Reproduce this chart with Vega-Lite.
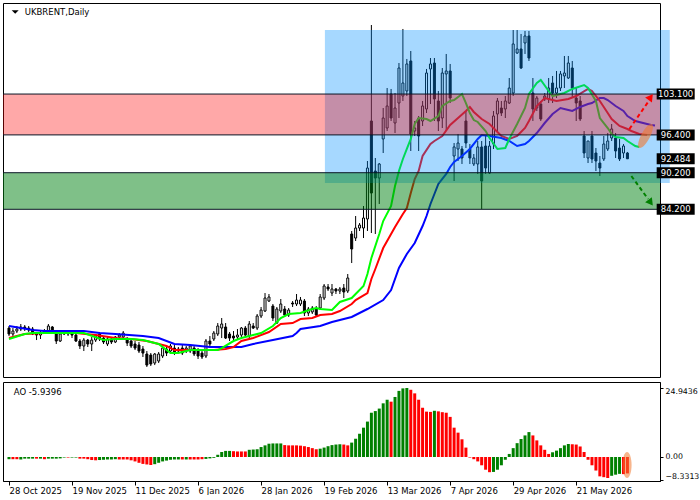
{
"$schema":"https://vega.github.io/schema/vega-lite/v6.json",
"padding":{"left":2,"top":2,"right":0,"bottom":0},
"background":"white",
"spacing":3,
"resolve":{"scale":{"color":"independent"}},
"config":{"view":{"stroke":"#000","strokeWidth":1},"axis":{"labelFont":"DejaVu Sans","labelFontSize":8.5,"labelColor":"#000","domainColor":"#000","tickColor":"#000","grid":false},"text":{"font":"DejaVu Sans"}},
"datasets":{
"candles":[
{"i":0,"o":64.73,"h":65.06,"l":63.42,"c":63.75},{"i":1,"o":63.75,"h":64.73,"l":63.42,"c":64.24},{"i":2,"o":64.24,"h":65.06,"l":63.91,"c":64.57},{"i":3,"o":64.57,"h":65.39,"l":64.24,"c":64.90},{"i":4,"o":64.90,"h":65.22,"l":64.24,"c":64.73},{"i":5,"o":64.73,"h":65.06,"l":64.08,"c":64.40},{"i":6,"o":64.57,"h":64.90,"l":63.58,"c":63.75},{"i":7,"o":63.75,"h":64.08,"l":62.76,"c":63.58},{"i":8,"o":63.58,"h":64.24,"l":62.93,"c":63.91},{"i":9,"o":63.91,"h":64.57,"l":63.75,"c":64.24},
{"i":10,"o":64.24,"h":65.39,"l":64.08,"c":65.06},{"i":11,"o":64.90,"h":65.06,"l":63.75,"c":63.91},{"i":12,"o":63.75,"h":64.08,"l":62.11,"c":62.60},{"i":13,"o":62.60,"h":64.08,"l":62.44,"c":63.75},{"i":14,"o":63.75,"h":64.40,"l":63.58,"c":64.08},{"i":15,"o":64.08,"h":64.24,"l":63.42,"c":63.75},{"i":16,"o":63.75,"h":64.08,"l":63.09,"c":63.58},{"i":17,"o":63.58,"h":63.91,"l":62.44,"c":62.60},{"i":18,"o":62.60,"h":62.93,"l":61.29,"c":61.78},{"i":19,"o":61.78,"h":63.09,"l":60.96,"c":62.76},
{"i":20,"o":62.76,"h":62.93,"l":61.62,"c":62.11},{"i":21,"o":62.11,"h":63.26,"l":60.96,"c":62.76},{"i":22,"o":62.76,"h":63.75,"l":62.44,"c":63.58},{"i":23,"o":63.75,"h":64.08,"l":62.60,"c":62.93},{"i":24,"o":63.09,"h":63.42,"l":62.11,"c":62.44},{"i":25,"o":62.11,"h":63.26,"l":61.78,"c":62.93},{"i":26,"o":62.93,"h":63.26,"l":62.11,"c":62.44},{"i":27,"o":62.44,"h":63.42,"l":62.27,"c":63.26},{"i":28,"o":63.26,"h":63.91,"l":62.93,"c":63.58},{"i":29,"o":63.26,"h":64.24,"l":62.93,"c":63.91},
{"i":30,"o":62.93,"h":63.26,"l":61.78,"c":62.27},{"i":31,"o":62.60,"h":63.09,"l":61.45,"c":61.78},{"i":32,"o":62.11,"h":62.60,"l":61.12,"c":61.45},{"i":33,"o":61.94,"h":62.44,"l":60.63,"c":60.96},{"i":34,"o":61.29,"h":61.78,"l":59.98,"c":60.63},{"i":35,"o":60.47,"h":60.96,"l":58.34,"c":58.66},{"i":36,"o":60.30,"h":60.63,"l":58.50,"c":58.83},{"i":37,"o":58.99,"h":60.63,"l":58.66,"c":60.47},{"i":38,"o":59.32,"h":60.80,"l":58.99,"c":60.47},{"i":39,"o":60.14,"h":61.94,"l":59.81,"c":61.45},
{"i":40,"o":61.29,"h":61.78,"l":60.14,"c":60.63},{"i":41,"o":60.96,"h":62.11,"l":60.63,"c":61.78},{"i":42,"o":61.45,"h":61.94,"l":60.30,"c":60.63},{"i":43,"o":61.29,"h":61.62,"l":60.80,"c":60.96},{"i":44,"o":61.45,"h":62.11,"l":60.30,"c":60.63},{"i":45,"o":60.96,"h":61.78,"l":60.63,"c":61.45},{"i":46,"o":60.96,"h":62.11,"l":60.63,"c":61.78},{"i":47,"o":61.45,"h":61.78,"l":60.14,"c":60.47},{"i":48,"o":61.12,"h":61.45,"l":59.65,"c":60.14},{"i":49,"o":60.63,"h":61.29,"l":59.65,"c":59.98},
{"i":50,"o":60.14,"h":62.93,"l":59.81,"c":62.60},{"i":51,"o":62.60,"h":63.42,"l":61.78,"c":62.11},{"i":52,"o":62.93,"h":64.24,"l":62.60,"c":63.91},{"i":53,"o":63.75,"h":65.55,"l":63.42,"c":65.06},{"i":54,"o":64.73,"h":66.37,"l":63.09,"c":65.39},{"i":55,"o":64.90,"h":65.55,"l":62.93,"c":63.09},{"i":56,"o":63.75,"h":64.08,"l":62.60,"c":63.09},{"i":57,"o":63.42,"h":64.24,"l":62.76,"c":63.09},{"i":58,"o":63.26,"h":64.57,"l":62.93,"c":63.58},{"i":59,"o":63.58,"h":64.90,"l":63.26,"c":64.73},
{"i":60,"o":64.73,"h":65.06,"l":63.26,"c":63.58},{"i":61,"o":63.42,"h":65.88,"l":63.09,"c":65.39},{"i":62,"o":65.06,"h":65.55,"l":64.57,"c":64.73},{"i":63,"o":64.73,"h":67.03,"l":64.40,"c":66.70},{"i":64,"o":66.70,"h":68.18,"l":66.37,"c":67.68},{"i":65,"o":67.52,"h":70.47,"l":67.36,"c":69.65},{"i":66,"o":69.16,"h":70.31,"l":69.00,"c":69.82},{"i":67,"o":68.34,"h":68.67,"l":65.88,"c":66.37},{"i":68,"o":65.55,"h":68.18,"l":65.39,"c":67.85},{"i":69,"o":67.52,"h":69.49,"l":67.19,"c":68.67},
{"i":70,"o":67.85,"h":68.34,"l":66.54,"c":66.86},{"i":71,"o":66.86,"h":68.01,"l":66.54,"c":67.68},{"i":72,"o":68.83,"h":69.16,"l":68.18,"c":68.67},{"i":73,"o":68.67,"h":70.31,"l":68.34,"c":69.32},{"i":74,"o":68.67,"h":69.82,"l":68.34,"c":69.32},{"i":75,"o":69.16,"h":69.49,"l":66.70,"c":67.19},{"i":76,"o":67.19,"h":68.18,"l":66.70,"c":67.85},{"i":77,"o":67.36,"h":68.34,"l":67.03,"c":68.01},{"i":78,"o":67.85,"h":68.34,"l":66.54,"c":66.86},{"i":79,"o":68.01,"h":70.31,"l":67.68,"c":69.82},
{"i":80,"o":69.65,"h":71.95,"l":69.32,"c":71.62},{"i":81,"o":71.46,"h":71.95,"l":70.80,"c":71.13},{"i":82,"o":70.47,"h":71.95,"l":69.98,"c":71.13},{"i":83,"o":71.13,"h":71.29,"l":70.31,"c":70.80},{"i":84,"o":70.80,"h":71.46,"l":70.31,"c":71.13},{"i":85,"o":71.29,"h":71.95,"l":69.65,"c":70.64},{"i":86,"o":70.80,"h":73.59,"l":70.47,"c":72.93},{"i":87,"o":80.15,"h":80.64,"l":75.39,"c":77.69},{"i":88,"o":79.49,"h":83.10,"l":79.00,"c":81.13},{"i":89,"o":81.13,"h":81.95,"l":80.64,"c":81.62},
{"i":90,"o":81.13,"h":84.74,"l":79.49,"c":82.77},{"i":91,"o":82.61,"h":92.12,"l":80.64,"c":90.97},{"i":92,"o":98.68,"h":114.42,"l":80.31,"c":86.87},{"i":93,"o":90.48,"h":92.61,"l":80.15,"c":89.33},{"i":94,"o":89.33,"h":91.79,"l":85.07,"c":91.63},{"i":95,"o":95.73,"h":100.81,"l":93.43,"c":99.17},{"i":96,"o":97.53,"h":104.09,"l":97.04,"c":101.14},{"i":97,"o":103.11,"h":103.93,"l":98.68,"c":99.17},{"i":98,"o":98.35,"h":103.27,"l":96.71,"c":100.81},{"i":99,"o":101.63,"h":108.19,"l":99.17,"c":107.37},
{"i":100,"o":102.78,"h":113.77,"l":101.96,"c":104.91},{"i":101,"o":103.60,"h":108.85,"l":102.78,"c":108.03},{"i":102,"o":108.52,"h":110.16,"l":93.76,"c":96.55},{"i":103,"o":97.04,"h":98.68,"l":96.22,"c":97.53},{"i":104,"o":99.17,"h":99.50,"l":93.76,"c":96.22},{"i":105,"o":98.68,"h":101.96,"l":97.86,"c":101.14},{"i":106,"o":100.65,"h":107.21,"l":99.99,"c":106.55},{"i":107,"o":107.21,"h":109.01,"l":101.47,"c":108.03},{"i":108,"o":108.19,"h":109.01,"l":98.68,"c":102.29},{"i":109,"o":101.96,"h":103.60,"l":97.04,"c":98.68},
{"i":110,"o":99.17,"h":107.37,"l":97.53,"c":106.55},{"i":111,"o":106.39,"h":109.67,"l":97.04,"c":106.88},{"i":112,"o":106.88,"h":108.03,"l":101.63,"c":102.45},{"i":113,"o":92.94,"h":95.07,"l":88.84,"c":94.42},{"i":114,"o":94.09,"h":96.55,"l":92.12,"c":95.07},{"i":115,"o":94.09,"h":94.58,"l":91.63,"c":92.61},{"i":116,"o":98.68,"h":100.32,"l":94.25,"c":95.07},{"i":117,"o":94.09,"h":94.91,"l":91.63,"c":92.61},{"i":118,"o":91.63,"h":93.27,"l":91.30,"c":92.61},{"i":119,"o":91.63,"h":95.40,"l":89.99,"c":94.42},
{"i":120,"o":94.42,"h":95.40,"l":84.25,"c":88.84},{"i":121,"o":94.58,"h":96.22,"l":89.99,"c":90.97},{"i":122,"o":90.15,"h":95.40,"l":89.99,"c":94.58},{"i":123,"o":94.91,"h":100.32,"l":94.09,"c":99.50},{"i":124,"o":99.83,"h":102.45,"l":97.04,"c":101.96},{"i":125,"o":100.81,"h":101.96,"l":99.50,"c":99.99},{"i":126,"o":100.65,"h":102.78,"l":99.17,"c":101.96},{"i":127,"o":101.63,"h":105.73,"l":101.47,"c":104.09},{"i":128,"o":103.27,"h":113.60,"l":102.78,"c":111.31},{"i":129,"o":109.83,"h":113.60,"l":109.67,"c":110.49},
{"i":130,"o":110.49,"h":112.95,"l":107.21,"c":107.37},{"i":131,"o":111.47,"h":113.44,"l":109.67,"c":112.62},{"i":132,"o":112.62,"h":113.44,"l":108.52,"c":109.01},{"i":133,"o":103.27,"h":105.73,"l":98.68,"c":100.65},{"i":134,"o":100.81,"h":102.78,"l":100.32,"c":102.45},{"i":135,"o":101.47,"h":101.96,"l":98.68,"c":99.01},{"i":136,"o":102.29,"h":103.27,"l":101.96,"c":102.78},{"i":137,"o":102.29,"h":105.73,"l":101.63,"c":104.09},{"i":138,"o":104.91,"h":106.06,"l":101.63,"c":103.27},{"i":139,"o":103.27,"h":106.88,"l":102.45,"c":104.09},
{"i":140,"o":104.09,"h":106.88,"l":103.60,"c":106.39},{"i":141,"o":106.06,"h":109.34,"l":104.09,"c":106.55},{"i":142,"o":105.73,"h":109.34,"l":105.57,"c":108.19},{"i":143,"o":107.37,"h":108.52,"l":102.45,"c":104.09},{"i":144,"o":102.45,"h":104.09,"l":98.68,"c":101.63},{"i":145,"o":101.96,"h":102.78,"l":98.68,"c":99.01},{"i":146,"o":96.22,"h":97.04,"l":92.61,"c":93.43},{"i":147,"o":92.61,"h":95.40,"l":91.79,"c":95.40},{"i":148,"o":96.22,"h":97.04,"l":91.79,"c":92.45},{"i":149,"o":93.43,"h":94.25,"l":90.48,"c":92.12},
{"i":150,"o":91.79,"h":92.94,"l":89.66,"c":90.97},{"i":151,"o":92.45,"h":96.22,"l":92.12,"c":94.91},{"i":152,"o":94.09,"h":96.71,"l":93.76,"c":95.40},{"i":153,"o":95.89,"h":98.19,"l":95.40,"c":97.37},{"i":154,"o":95.89,"h":96.71,"l":92.61,"c":93.76},{"i":155,"o":94.25,"h":95.73,"l":92.12,"c":92.45},{"i":156,"o":93.43,"h":94.91,"l":92.61,"c":94.58},{"i":157,"o":93.43,"h":93.60,"l":92.45,"c":92.484}
],
"ma":[
{"i":0,"s":"b","v":65.06},{"i":6,"s":"b","v":64.40},{"i":9,"s":"b","v":64.24},{"i":19,"s":"b","v":64.24},{"i":23,"s":"b","v":63.91},{"i":27,"s":"b","v":63.75},{"i":34,"s":"b","v":63.42},{"i":38,"s":"b","v":63.09},{"i":42,"s":"b","v":62.11},{"i":46,"s":"b","v":61.94},{"i":51,"s":"b","v":61.62},{"i":59,"s":"b","v":61.62},{"i":62,"s":"b","v":62.11},{"i":67,"s":"b","v":62.76},{"i":72,"s":"b","v":63.42},{"i":73,"s":"b","v":63.91},{"i":74,"s":"b","v":64.57},{"i":79,"s":"b","v":65.06},{"i":82,"s":"b","v":65.72},{"i":87,"s":"b","v":66.54},{"i":91,"s":"b","v":67.85},{"i":95,"s":"b","v":69.32},{"i":97,"s":"b","v":70.96},{"i":99,"s":"b","v":74.57},{"i":101,"s":"b","v":76.87},{"i":103,"s":"b","v":78.67},{"i":105,"s":"b","v":81.46},{"i":106,"s":"b","v":83.10},{"i":107,"s":"b","v":85.07},{"i":108,"s":"b","v":86.71},{"i":109,"s":"b","v":88.35},{"i":111,"s":"b","v":89.99},{"i":112,"s":"b","v":91.14},{"i":113,"s":"b","v":91.96},{"i":115,"s":"b","v":92.94},{"i":117,"s":"b","v":94.09},{"i":119,"s":"b","v":95.73},{"i":120,"s":"b","v":96.38},{"i":122,"s":"b","v":96.22},{"i":125,"s":"b","v":95.89},{"i":127,"s":"b","v":95.40},{"i":129,"s":"b","v":94.58},{"i":131,"s":"b","v":94.91},{"i":132,"s":"b","v":95.40},{"i":134,"s":"b","v":96.71},{"i":136,"s":"b","v":98.35},{"i":138,"s":"b","v":99.83},{"i":140,"s":"b","v":100.81},{"i":142,"s":"b","v":100.48},{"i":143,"s":"b","v":100.32},{"i":145,"s":"b","v":100.98},{"i":147,"s":"b","v":101.47},{"i":148,"s":"b","v":101.63},{"i":150,"s":"b","v":102.45},{"i":151,"s":"b","v":102.45},{"i":152,"s":"b","v":102.12},{"i":154,"s":"b","v":101.14},{"i":156,"s":"b","v":100.32},{"i":157,"s":"b","v":99.50},{"i":159,"s":"b","v":98.68},{"i":161,"s":"b","v":98.35},{"i":163,"s":"b","v":98.02},{"i":164,"s":"b","v":97.95},
{"i":0,"s":"r","v":63.09},{"i":4,"s":"r","v":63.75},{"i":9,"s":"r","v":63.91},{"i":17,"s":"r","v":63.91},{"i":22,"s":"r","v":63.58},{"i":27,"s":"r","v":63.09},{"i":31,"s":"r","v":62.93},{"i":35,"s":"r","v":62.60},{"i":40,"s":"r","v":61.78},{"i":42,"s":"r","v":61.12},{"i":52,"s":"r","v":61.12},{"i":55,"s":"r","v":61.29},{"i":57,"s":"r","v":61.62},{"i":59,"s":"r","v":62.60},{"i":62,"s":"r","v":63.09},{"i":66,"s":"r","v":64.08},{"i":69,"s":"r","v":65.39},{"i":72,"s":"r","v":65.55},{"i":74,"s":"r","v":66.21},{"i":77,"s":"r","v":66.37},{"i":79,"s":"r","v":66.86},{"i":82,"s":"r","v":67.03},{"i":84,"s":"r","v":67.52},{"i":87,"s":"r","v":68.67},{"i":88,"s":"r","v":69.32},{"i":91,"s":"r","v":70.47},{"i":92,"s":"r","v":72.77},{"i":93,"s":"r","v":74.41},{"i":95,"s":"r","v":77.85},{"i":97,"s":"r","v":80.15},{"i":98,"s":"r","v":81.30},{"i":100,"s":"r","v":83.43},{"i":101,"s":"r","v":84.41},{"i":102,"s":"r","v":86.87},{"i":103,"s":"r","v":89.17},{"i":104,"s":"r","v":90.48},{"i":105,"s":"r","v":92.94},{"i":107,"s":"r","v":94.91},{"i":108,"s":"r","v":95.40},{"i":110,"s":"r","v":96.22},{"i":112,"s":"r","v":98.02},{"i":114,"s":"r","v":99.17},{"i":116,"s":"r","v":100.32},{"i":117,"s":"r","v":100.98},{"i":118,"s":"r","v":100.16},{"i":120,"s":"r","v":99.01},{"i":122,"s":"r","v":98.19},{"i":124,"s":"r","v":96.88},{"i":125,"s":"r","v":96.22},{"i":127,"s":"r","v":95.73},{"i":129,"s":"r","v":96.22},{"i":131,"s":"r","v":97.53},{"i":132,"s":"r","v":98.68},{"i":134,"s":"r","v":101.14},{"i":136,"s":"r","v":102.45},{"i":138,"s":"r","v":102.12},{"i":139,"s":"r","v":101.96},{"i":142,"s":"r","v":102.29},{"i":144,"s":"r","v":102.78},{"i":147,"s":"r","v":103.93},{"i":148,"s":"r","v":103.60},{"i":150,"s":"r","v":101.96},{"i":152,"s":"r","v":99.99},{"i":153,"s":"r","v":99.01},{"i":155,"s":"r","v":97.86},{"i":157,"s":"r","v":97.37},{"i":158,"s":"r","v":97.04},{"i":160,"s":"r","v":96.55},{"i":162,"s":"r","v":96.38},
{"i":0,"s":"g","v":62.93},{"i":4,"s":"g","v":63.75},{"i":6,"s":"g","v":63.91},{"i":19,"s":"g","v":63.91},{"i":24,"s":"g","v":62.76},{"i":27,"s":"g","v":62.93},{"i":31,"s":"g","v":62.93},{"i":34,"s":"g","v":62.76},{"i":38,"s":"g","v":62.11},{"i":41,"s":"g","v":60.63},{"i":43,"s":"g","v":60.63},{"i":46,"s":"g","v":61.12},{"i":53,"s":"g","v":61.12},{"i":54,"s":"g","v":61.45},{"i":57,"s":"g","v":62.60},{"i":59,"s":"g","v":63.09},{"i":62,"s":"g","v":63.58},{"i":64,"s":"g","v":63.91},{"i":67,"s":"g","v":65.06},{"i":69,"s":"g","v":66.37},{"i":71,"s":"g","v":67.03},{"i":74,"s":"g","v":67.19},{"i":77,"s":"g","v":67.85},{"i":78,"s":"g","v":68.01},{"i":79,"s":"g","v":67.85},{"i":82,"s":"g","v":67.68},{"i":84,"s":"g","v":69.00},{"i":87,"s":"g","v":69.65},{"i":88,"s":"g","v":70.31},{"i":90,"s":"g","v":71.62},{"i":91,"s":"g","v":73.59},{"i":92,"s":"g","v":76.21},{"i":94,"s":"g","v":80.15},{"i":95,"s":"g","v":82.28},{"i":97,"s":"g","v":84.74},{"i":98,"s":"g","v":88.02},{"i":99,"s":"g","v":90.48},{"i":100,"s":"g","v":92.45},{"i":101,"s":"g","v":94.09},{"i":102,"s":"g","v":95.73},{"i":103,"s":"g","v":98.19},{"i":104,"s":"g","v":99.17},{"i":106,"s":"g","v":99.01},{"i":107,"s":"g","v":98.68},{"i":109,"s":"g","v":99.50},{"i":110,"s":"g","v":101.14},{"i":112,"s":"g","v":101.96},{"i":113,"s":"g","v":102.12},{"i":115,"s":"g","v":103.11},{"i":116,"s":"g","v":101.63},{"i":117,"s":"g","v":99.99},{"i":118,"s":"g","v":98.84},{"i":119,"s":"g","v":98.52},{"i":121,"s":"g","v":97.04},{"i":122,"s":"g","v":95.89},{"i":124,"s":"g","v":94.09},{"i":126,"s":"g","v":94.25},{"i":127,"s":"g","v":95.73},{"i":129,"s":"g","v":98.19},{"i":131,"s":"g","v":100.81},{"i":132,"s":"g","v":103.11},{"i":134,"s":"g","v":104.91},{"i":135,"s":"g","v":105.40},{"i":137,"s":"g","v":103.60},{"i":138,"s":"g","v":102.78},{"i":141,"s":"g","v":103.27},{"i":143,"s":"g","v":103.93},{"i":146,"s":"g","v":104.58},{"i":147,"s":"g","v":104.09},{"i":149,"s":"g","v":101.96},{"i":150,"s":"g","v":99.17},{"i":152,"s":"g","v":97.53},{"i":153,"s":"g","v":96.55},{"i":154,"s":"g","v":96.06},{"i":156,"s":"g","v":95.89},{"i":157,"s":"g","v":95.40},{"i":159,"s":"g","v":94.58},{"i":160,"s":"g","v":94.42}
],
"ao":[
{"i":0,"v":-0.8,"c":"g"},{"i":1,"v":-0.8,"c":"r"},{"i":2,"v":-0.8,"c":"r"},{"i":3,"v":-0.9,"c":"g"},{"i":4,"v":-0.6,"c":"g"},{"i":5,"v":-0.6,"c":"g"},{"i":6,"v":-0.6,"c":"g"},{"i":7,"v":-0.6,"c":"r"},{"i":8,"v":-0.6,"c":"g"},{"i":9,"v":-0.8,"c":"r"},
{"i":10,"v":-0.6,"c":"g"},{"i":11,"v":-0.6,"c":"g"},{"i":12,"v":-0.6,"c":"g"},{"i":13,"v":-0.5,"c":"g"},{"i":14,"v":-0.2,"c":"g"},{"i":15,"v":-0.2,"c":"r"},{"i":16,"v":-0.2,"c":"g"},{"i":17,"v":-0.2,"c":"g"},{"i":18,"v":-0.6,"c":"r"},{"i":19,"v":-0.6,"c":"r"},
{"i":20,"v":-0.8,"c":"r"},{"i":21,"v":-1.1,"c":"r"},{"i":22,"v":-1.2,"c":"r"},{"i":23,"v":-1.1,"c":"g"},{"i":24,"v":-1.0,"c":"g"},{"i":25,"v":-0.9,"c":"g"},{"i":26,"v":-0.9,"c":"g"},{"i":27,"v":-0.8,"c":"g"},{"i":28,"v":-0.9,"c":"r"},{"i":29,"v":-0.9,"c":"r"},
{"i":30,"v":-0.9,"c":"r"},{"i":31,"v":-1.2,"c":"r"},{"i":32,"v":-1.6,"c":"r"},{"i":33,"v":-2.1,"c":"r"},{"i":34,"v":-2.5,"c":"r"},{"i":35,"v":-2.7,"c":"r"},{"i":36,"v":-2.9,"c":"r"},{"i":37,"v":-2.6,"c":"g"},{"i":38,"v":-2.1,"c":"g"},{"i":39,"v":-1.6,"c":"g"},
{"i":40,"v":-1.3,"c":"g"},{"i":41,"v":-1.0,"c":"g"},{"i":42,"v":-0.9,"c":"g"},{"i":43,"v":-0.9,"c":"g"},{"i":44,"v":-0.9,"c":"r"},{"i":45,"v":-0.9,"c":"g"},{"i":46,"v":-0.9,"c":"r"},{"i":47,"v":-0.9,"c":"r"},{"i":48,"v":-0.9,"c":"r"},{"i":49,"v":-0.8,"c":"r"},
{"i":50,"v":-0.7,"c":"g"},{"i":51,"v":-0.5,"c":"g"},{"i":52,"v":-0.3,"c":"g"},{"i":53,"v":0.8,"c":"g"},{"i":54,"v":1.8,"c":"g"},{"i":55,"v":2.2,"c":"g"},{"i":56,"v":2.2,"c":"g"},{"i":57,"v":2.1,"c":"r"},{"i":58,"v":2.0,"c":"r"},{"i":59,"v":2.0,"c":"r"},
{"i":60,"v":2.0,"c":"r"},{"i":61,"v":2.6,"c":"g"},{"i":62,"v":2.7,"c":"g"},{"i":63,"v":2.8,"c":"g"},{"i":64,"v":3.6,"c":"g"},{"i":65,"v":4.2,"c":"g"},{"i":66,"v":4.8,"c":"g"},{"i":67,"v":4.9,"c":"g"},{"i":68,"v":4.9,"c":"g"},{"i":69,"v":4.9,"c":"g"},
{"i":70,"v":4.3,"c":"r"},{"i":71,"v":4.2,"c":"r"},{"i":72,"v":4.2,"c":"r"},{"i":73,"v":4.2,"c":"r"},{"i":74,"v":4.1,"c":"r"},{"i":75,"v":3.9,"c":"r"},{"i":76,"v":3.6,"c":"r"},{"i":77,"v":3.2,"c":"r"},{"i":78,"v":2.8,"c":"r"},{"i":79,"v":3.0,"c":"g"},
{"i":80,"v":3.4,"c":"g"},{"i":81,"v":3.9,"c":"g"},{"i":82,"v":4.3,"c":"g"},{"i":83,"v":4.5,"c":"g"},{"i":84,"v":4.6,"c":"g"},{"i":85,"v":4.5,"c":"r"},{"i":86,"v":4.2,"c":"r"},{"i":87,"v":5.2,"c":"g"},{"i":88,"v":6.6,"c":"g"},{"i":89,"v":8.4,"c":"g"},
{"i":90,"v":10.6,"c":"g"},{"i":91,"v":12.8,"c":"g"},{"i":92,"v":16.0,"c":"g"},{"i":93,"v":16.6,"c":"g"},{"i":94,"v":17.5,"c":"g"},{"i":95,"v":19.4,"c":"g"},{"i":96,"v":20.7,"c":"g"},{"i":97,"v":20.0,"c":"r"},{"i":98,"v":21.7,"c":"g"},{"i":99,"v":23.9,"c":"g"},
{"i":100,"v":24.8,"c":"g"},{"i":101,"v":24.9436,"c":"g"},{"i":102,"v":24.3,"c":"r"},{"i":103,"v":23.0,"c":"r"},{"i":104,"v":20.7,"c":"r"},{"i":105,"v":17.8,"c":"r"},{"i":106,"v":16.4,"c":"r"},{"i":107,"v":16.3,"c":"r"},{"i":108,"v":16.7,"c":"g"},{"i":109,"v":16.5,"c":"r"},
{"i":110,"v":16.2,"c":"r"},{"i":111,"v":16.0,"c":"r"},{"i":112,"v":14.5,"c":"r"},{"i":113,"v":10.6,"c":"r"},{"i":114,"v":8.8,"c":"r"},{"i":115,"v":6.4,"c":"r"},{"i":116,"v":3.4,"c":"r"},{"i":117,"v":-0.2,"c":"r"},{"i":118,"v":-0.8,"c":"r"},{"i":119,"v":-1.6,"c":"r"},
{"i":120,"v":-3.0,"c":"r"},{"i":121,"v":-4.6,"c":"r"},{"i":122,"v":-5.5,"c":"r"},{"i":123,"v":-5.4,"c":"g"},{"i":124,"v":-4.6,"c":"g"},{"i":125,"v":-3.0,"c":"g"},{"i":126,"v":-1.0,"c":"g"},{"i":127,"v":1.1,"c":"g"},{"i":128,"v":3.2,"c":"g"},{"i":129,"v":5.0,"c":"g"},
{"i":130,"v":6.5,"c":"g"},{"i":131,"v":7.8,"c":"g"},{"i":132,"v":9.0,"c":"g"},{"i":133,"v":7.8,"c":"r"},{"i":134,"v":6.0,"c":"r"},{"i":135,"v":4.2,"c":"r"},{"i":136,"v":2.6,"c":"r"},{"i":137,"v":1.1,"c":"r"},{"i":138,"v":1.7,"c":"g"},{"i":139,"v":2.3,"c":"g"},
{"i":140,"v":3.2,"c":"g"},{"i":141,"v":4.2,"c":"g"},{"i":142,"v":4.7,"c":"g"},{"i":143,"v":4.6,"c":"r"},{"i":144,"v":4.5,"c":"r"},{"i":145,"v":3.8,"c":"r"},{"i":146,"v":1.8,"c":"r"},{"i":147,"v":-1.0,"c":"r"},{"i":148,"v":-3.0,"c":"r"},{"i":149,"v":-4.9,"c":"r"},
{"i":150,"v":-7.0,"c":"r"},{"i":151,"v":-7.3,"c":"r"},{"i":152,"v":-7.6,"c":"r"},{"i":153,"v":-6.8,"c":"g"},{"i":154,"v":-6.4,"c":"g"},{"i":155,"v":-6.1,"c":"g"},{"i":156,"v":-6.2,"c":"r"},{"i":157,"v":-5.9396,"c":"r"}
]
},
"vconcat":[
{
"width":657,"height":374,
"resolve":{"scale":{"color":"independent"}},
"layer":[
{"data":{"name":"candles"},"mark":{"type":"rule","color":"#000","strokeWidth":1},
 "encoding":{"x":{"field":"i","type":"quantitative","scale":{"domain":[-0.25,164],"nice":false,"zero":false},"axis":null},
  "y":{"field":"l","type":"quantitative","scale":{"domain":[56.70,118.03],"nice":false,"zero":false},
   "axis":{"orient":"right","title":null,"values":[116.39,111.11,105.67,100.23,94.79,89.35,83.91,78.63,73.19,67.75,62.31,57.03],"format":".3f","tickSize":3,"labelPadding":3,"labelOverlap":false,"labelFlush":false}},
  "y2":{"field":"h"}}},
{"data":{"name":"candles"},"mark":{"type":"bar","width":2,"stroke":"#000","strokeWidth":1},
 "encoding":{"x":{"field":"i","type":"quantitative","axis":null},"y":{"field":"o","type":"quantitative","axis":null},"y2":{"field":"c"},
  "fill":{"condition":{"test":"datum.c > datum.o","value":"#ffffff"},"value":"#000000"}}},
{"data":{"name":"ma"},"mark":{"type":"line","strokeWidth":2},
 "encoding":{"x":{"field":"i","type":"quantitative","axis":null},"y":{"field":"v","type":"quantitative","axis":null},
  "color":{"field":"s","type":"nominal","scale":{"domain":["b","r","g"],"range":["#0000FF","#FF0000","#00FF00"]},"legend":null}}},
{"data":{"values":[{"from":80.2,"to":167.75,"lo":88.51,"hi":113.6}]},"mark":{"type":"rect","color":"#0090FF","opacity":0.35},
 "encoding":{"x":{"field":"from","type":"quantitative","axis":null},"x2":{"field":"to"},"y":{"field":"lo","type":"quantitative","axis":null},"y2":{"field":"hi"}}},
{"data":{"values":[{"lo":96.4,"hi":103.1}]},"mark":{"type":"rect","color":"#FF0000","opacity":0.34},
 "encoding":{"y":{"field":"lo","type":"quantitative","axis":null},"y2":{"field":"hi"}}},
{"data":{"values":[{"lo":84.2,"hi":90.2}]},"mark":{"type":"rect","color":"#008111","opacity":0.5},
 "encoding":{"y":{"field":"lo","type":"quantitative","axis":null},"y2":{"field":"hi"}}},
{"data":{"values":[{"v":103.1},{"v":96.4},{"v":90.2},{"v":84.2}]},"mark":{"type":"rule","color":"#0A1626","strokeWidth":1},
 "encoding":{"y":{"field":"v","type":"quantitative","axis":null}}},
{"data":{"values":[{"i":157.5,"p":97.37},{"i":162.25,"p":101.8}]},
 "mark":{"type":"line","strokeWidth":2,"strokeDash":[4,3],"color":"#FF0000"},
 "encoding":{"x":{"field":"i","type":"quantitative","axis":null},"y":{"field":"p","type":"quantitative","axis":null}}},
{"data":{"values":[{"i":158,"p":89.66},{"i":162.25,"p":85.89}]},
 "mark":{"type":"line","strokeWidth":2,"strokeDash":[4,3],"color":"#008000"},
 "encoding":{"x":{"field":"i","type":"quantitative","axis":null},"y":{"field":"p","type":"quantitative","axis":null}}},
{"data":{"values":[{}]},"mark":{"type":"point","shape":"triangle-up","filled":true,"size":70,"angle":36,"color":"#FF0000","opacity":1},
 "encoding":{"x":{"datum":162.9},"y":{"datum":102.6}}},
{"data":{"values":[{}]},"mark":{"type":"point","shape":"triangle-up","filled":true,"size":70,"angle":143,"color":"#008000","opacity":1},
 "encoding":{"x":{"datum":162.9},"y":{"datum":85.3}}},
{"data":{"values":[{}]},"mark":{"type":"point","shape":"M-0.33,0A0.33,1 0 1,0 0.33,0A0.33,1 0 1,0 -0.33,0Z","filled":true,"size":729,"angle":28,"color":"#F07830","opacity":0.6},
 "encoding":{"x":{"datum":161.6},"y":{"datum":96.22}}},
{"data":{"values":[{"v":103.1,"t":"103.100"},{"v":96.4,"t":"96.400"},{"v":92.484,"t":"92.484"},{"v":90.2,"t":"90.200"},{"v":84.2,"t":"84.200"}]},
 "layer":[
  {"mark":{"type":"point","shape":"M-1,-0.29L1,-0.29L1,0.29L-1,0.29Z","filled":true,"size":1444,"color":"#000","opacity":1},
   "encoding":{"x":{"datum":169.25},"y":{"field":"v","type":"quantitative","axis":null}}},
  {"mark":{"type":"text","color":"#fff","fontSize":8.5,"align":"center","baseline":"middle"},
   "encoding":{"x":{"datum":169.25},"y":{"field":"v","type":"quantitative","axis":null},"text":{"field":"t"}}}
 ]},
{"data":{"values":[{}]},"mark":{"type":"text","text":"UKBRENT,Daily","fontSize":8.5,"align":"left","baseline":"middle","color":"#000"},
 "encoding":{"x":{"datum":4.0},"y":{"datum":116.56}}},
{"data":{"values":[{}]},"mark":{"type":"point","shape":"M-1,-0.5L1,-0.5L0,0.5Z","filled":true,"size":49,"color":"#000","opacity":1},
 "encoding":{"x":{"datum":1.58},"y":{"datum":116.56}}}
]
},
{
"width":657,"height":99,
"layer":[
{"data":{"name":"ao"},"mark":{"type":"bar","width":3},
 "encoding":{"x":{"field":"i","type":"quantitative","scale":{"domain":[-0.25,164],"nice":false,"zero":false},
   "axis":{"orient":"bottom","title":null,"values":[0,16,32,48,64,80,96,112,128,144],"labelExpr":"['28 Oct 2025','19 Nov 2025','11 Dec 2025','6 Jan 2026','28 Jan 2026','19 Feb 2026','13 Mar 2026','7 Apr 2026','29 Apr 2026','21 May 2026'][round(datum.value/16)]","labelAlign":"left","tickSize":4,"labelPadding":1,"labelOverlap":false,"labelFlush":false}},
  "y":{"field":"v","type":"quantitative","scale":{"domain":[-8.68,27.11],"nice":false,"zero":false},
   "axis":{"orient":"right","title":null,"values":[24.9436,0,-8.3313],"labelExpr":"datum.value == 0 ? '0.00' : format(datum.value, '.4f')","tickSize":3,"labelPadding":2,"labelFontSize":7.8,"labelOverlap":false,"labelFlush":8}},
  "y2":{"datum":0},
  "color":{"field":"c","type":"nominal","scale":{"domain":["g","r"],"range":["#008000","#FF0000"]},"legend":null}}},
{"data":{"values":[{}]},"mark":{"type":"point","shape":"M-0.35,0A0.35,1 0 1,0 0.35,0A0.35,1 0 1,0 -0.35,0Z","filled":true,"size":676,"color":"#F07830","opacity":0.55},
 "encoding":{"x":{"datum":156.9},"y":{"datum":-2.9}}},
{"data":{"values":[{}]},"mark":{"type":"text","text":"AO -5.9396","fontSize":8.5,"align":"left","baseline":"middle","color":"#000"},
 "encoding":{"x":{"datum":1.2},"y":{"datum":23.5}}}
]
}
]
}
